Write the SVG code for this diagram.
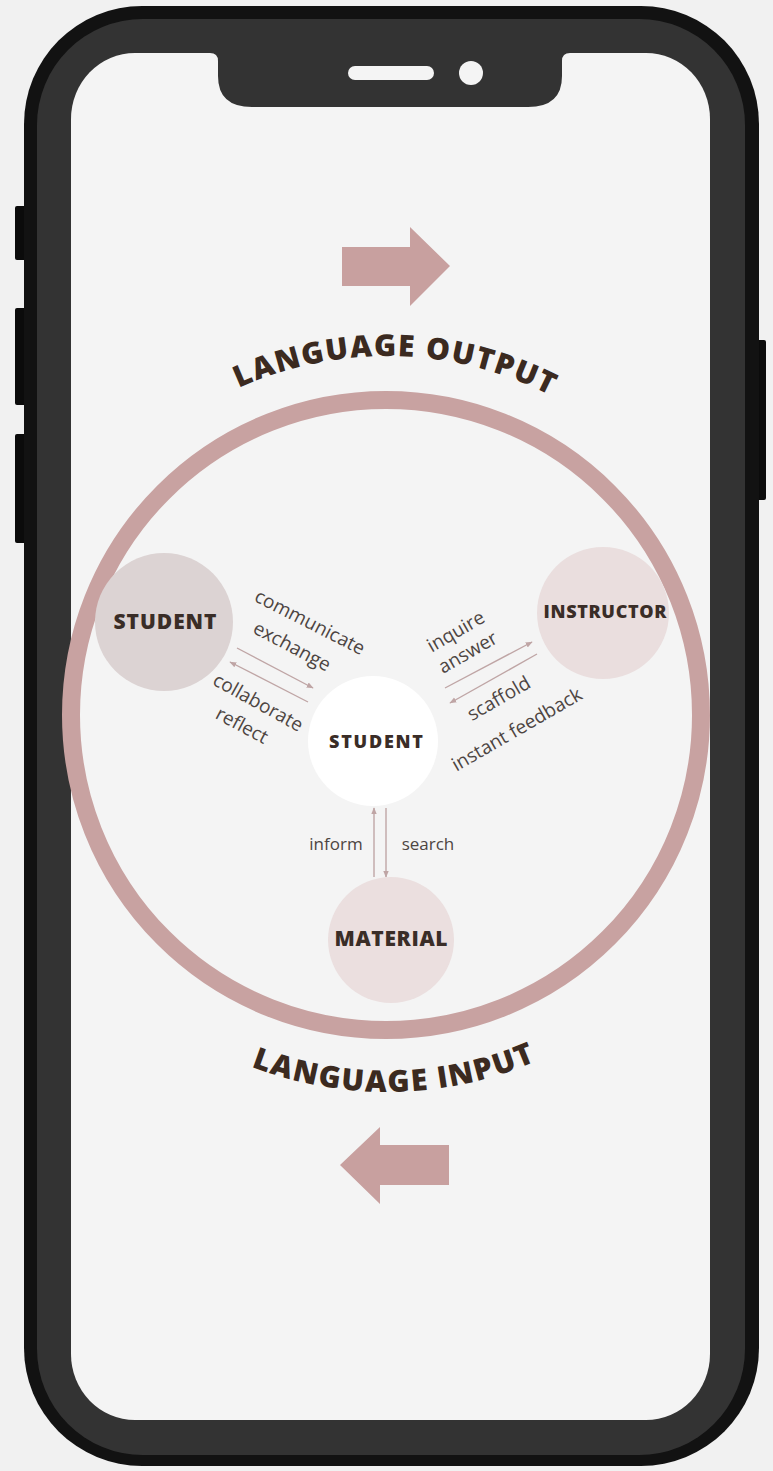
<svg xmlns="http://www.w3.org/2000/svg" width="773" height="1471" viewBox="0 0 773 1471">
  <defs>
    <style>
      .frame-outer { fill: #121212; }
      .frame-bezel { fill: #333333; }
      .button { fill: #0b0b0b; }
      .screen { fill: #f4f4f4; }
      .ring { fill: none; stroke: #c8a2a1; stroke-width: 18; }
      .big-arrow { fill: #c8a09f; }
      .arc-title { font-family: "Open Sans", "Liberation Sans", sans-serif; font-weight: 800; font-size: 30px; fill: #3b2a20; letter-spacing: 1.5px; }
      .node-label { font-family: "Open Sans", "Liberation Sans", sans-serif; font-weight: 800; fill: #3a2d27; text-anchor: middle; }
      .edge-label { font-family: "Open Sans", "Liberation Sans", sans-serif; font-weight: 400; font-size: 17px; fill: #4d4542; text-anchor: middle; }
      .edge-label.tilted { font-size: 19px; }
      .link { stroke: #bfa5a5; stroke-width: 1.4; fill: none; marker-end: url(#tip); }
    </style>
    <marker id="tip" viewBox="0 0 10 10" refX="9" refY="5" markerWidth="7" markerHeight="7" markerUnits="userSpaceOnUse" orient="auto">
      <path d="M0,1 L10,5 L0,9 Z" fill="#bfa5a5"/>
    </marker>
    <path id="arcTop" d="M 29 714 A 358 358 0 0 1 745 714"/>
    <path id="arcBottom" d="M 9 714 A 378 378 0 0 0 765 714"/>
  </defs>

  <!-- page background -->
  <rect x="0" y="0" width="773" height="1471" fill="#f1f1f1"/>

  <!-- phone body -->
  <g id="phone">
    <rect class="button" x="15" y="206" width="12" height="54" rx="2"/>
    <rect class="button" x="15" y="308" width="12" height="97" rx="2"/>
    <rect class="button" x="15" y="434" width="12" height="109" rx="2"/>
    <rect class="button" x="754" y="340" width="12" height="160" rx="2"/>
    <rect class="frame-outer" x="24" y="6" width="735" height="1460" rx="118" ry="118"/>
    <rect class="frame-bezel" x="37" y="19" width="708" height="1436" rx="106" ry="106"/>
    <rect class="screen" x="71" y="53" width="639" height="1367" rx="64" ry="66"/>
    <path class="frame-bezel" d="M 210 53 Q 218 53 218 61 L 218 76 Q 218 107 252 107 L 528 107 Q 562 107 562 76 L 562 61 Q 562 53 570 53 Z"/>
    <rect x="348" y="66" width="86" height="14" rx="7" fill="#f4f4f4"/>
    <ellipse cx="471" cy="73" rx="12" ry="12" fill="#f4f4f4"/>
  </g>

  <!-- outer cycle ring -->
  <g id="cycle">
    <circle class="ring" cx="386" cy="715" r="315"/>
  </g>

  <!-- direction arrows -->
  <g id="arrow-output">
    <path class="big-arrow" d="M 342 247 L 410 247 L 410 227 L 450 266 L 410 306 L 410 286 L 342 286 Z"/>
  </g>
  <g id="arrow-input">
    <path class="big-arrow" d="M 449 1145 L 380 1145 L 380 1127 L 340 1165 L 380 1204 L 380 1185 L 449 1185 Z"/>
  </g>

  <!-- curved headings -->
  <g id="title-output">
    <text class="arc-title"><textPath href="#arcTop" startOffset="571" text-anchor="middle">LANGUAGE OUTPUT</textPath></text>
  </g>
  <g id="title-input">
    <text class="arc-title"><textPath href="#arcBottom" startOffset="601" text-anchor="middle">LANGUAGE INPUT</textPath></text>
  </g>

  <!-- connectors -->
  <g id="connectors">
    <line class="link" x1="237" y1="648" x2="313" y2="688"/>
    <line class="link" x1="308" y1="702" x2="230" y2="662"/>
    <line class="link" x1="445" y1="688" x2="532" y2="642"/>
    <line class="link" x1="537" y1="654" x2="450" y2="703"/>
    <line class="link" x1="374" y1="877" x2="374" y2="808"/>
    <line class="link" x1="386" y1="808" x2="386" y2="877"/>
  </g>

  <!-- connector labels -->
  <g id="labels">
    <text class="edge-label tilted" transform="translate(307 628) rotate(27)">communicate</text>
    <text class="edge-label tilted" transform="translate(289 652) rotate(28)">exchange</text>
    <text class="edge-label tilted" transform="translate(255 708) rotate(29)">collaborate</text>
    <text class="edge-label tilted" transform="translate(239 731) rotate(28)">reflect</text>
    <text class="edge-label tilted" transform="translate(459 637) rotate(-30)">inquire</text>
    <text class="edge-label tilted" transform="translate(471 658) rotate(-30)">answer</text>
    <text class="edge-label tilted" transform="translate(502 704) rotate(-30)">scaffold</text>
    <text class="edge-label tilted" transform="translate(520 735) rotate(-30)">instant feedback</text>
    <text class="edge-label" x="336" y="850">inform</text>
    <text class="edge-label" x="428" y="850">search</text>
  </g>

  <!-- nodes -->
  <g id="node-peer">
    <circle cx="164" cy="622" r="69" fill="#dcd3d3"/>
    <text class="node-label" x="165" y="629" font-size="21" textLength="103" lengthAdjust="spacing">STUDENT</text>
  </g>
  <g id="node-student">
    <circle cx="373" cy="741" r="65" fill="#ffffff"/>
    <text class="node-label" x="376" y="748" font-size="18" textLength="94" lengthAdjust="spacing">STUDENT</text>
  </g>
  <g id="node-instructor">
    <circle cx="603" cy="613" r="66" fill="#eadede"/>
    <text class="node-label" x="605" y="618" font-size="18" textLength="123" lengthAdjust="spacing">INSTRUCTOR</text>
  </g>
  <g id="node-material">
    <circle cx="391" cy="940" r="63" fill="#ebdfdf"/>
    <text class="node-label" x="391" y="946" font-size="21" textLength="113" lengthAdjust="spacing">MATERIAL</text>
  </g>
</svg>
